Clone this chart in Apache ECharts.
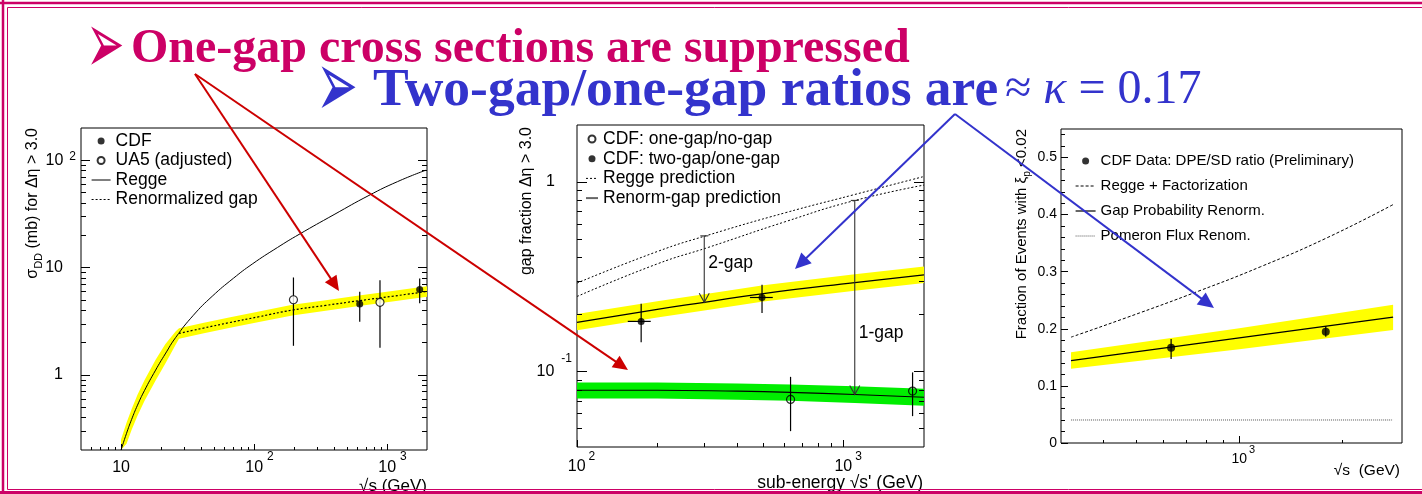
<!DOCTYPE html>
<html>
<head>
<meta charset="utf-8">
<script src="https://cdn.jsdelivr.net/npm/echarts@6.0.0/dist/echarts.min.js"></script>
<style>
html,body{margin:0;padding:0;background:#ffffff;}
#chart{width:1422px;height:494px;}
</style>
</head>
<body>
<div id="chart"></div>
<script>
// ================= DATA =================
// ---- Panel 1: sigma_DD (mb) for dEta > 3.0 vs sqrt(s) ----
const p1ReggeX  = [10, 11, 12, 13.3, 15, 18.2, 21.5, 25.8, 35, 48.5, 70, 97, 150, 218, 400, 732, 1200, 1950];
const p1ReggeY  = [0.2, 0.286, 0.384, 0.523, 0.715, 1.11, 1.57, 2.24, 3.6, 5.41, 7.96, 10.8, 15.4, 20.4, 31.2, 47.1, 63.3, 80.7];
const p1RenormX = [27.3, 42, 64.9, 109, 194, 346, 617, 1097, 2000];
const p1RenormY = [2.44, 2.74, 3.07, 3.49, 4.02, 4.45, 4.92, 5.41, 6.0];
const p1BandX   = [10, 11, 12, 13.3, 15, 18.2, 21.5, 25.8, 27.3, 42, 64.9, 109, 194, 346, 617, 1097, 2000];
const p1BandLo  = [0.2, 0.229, 0.307, 0.418, 0.572, 0.888, 1.27, 1.92, 2.18, 2.45, 2.74, 3.12, 3.59, 3.97, 4.39, 4.83, 5.36];
const p1BandHi  = [0.25, 0.358, 0.48, 0.654, 0.894, 1.39, 1.93, 2.56, 2.73, 3.07, 3.44, 3.91, 4.50, 4.98, 5.51, 6.06, 6.72];
const p1CdfX = [624, 1762], p1CdfY = [4.58, 6.27], p1CdfLo = [3.13, 4.65], p1CdfHi = [5.96, 7.92];
const p1Ua5X = [198, 886],  p1Ua5Y = [5.02, 4.75], p1Ua5Lo = [1.87, 1.79], p1Ua5Hi = [8.1, 7.64];
const p1XTicks = [10, 100, 1000];
const p1XTickLabels = [['10', ''], ['10', '2'], ['10', '3']];
const p1XMinor = [6, 7, 8, 9, 20, 30, 40, 50, 60, 70, 80, 90, 200, 300, 400, 500, 600, 700, 800, 900];
const p1YTicks = [1, 10, 100];
const p1YTickLabels = [['1', ''], ['10', ''], ['10', '2']];
const p1YMinor = [0.3, 0.4, 0.5, 0.6, 0.7, 0.8, 0.9, 2, 3, 4, 5, 6, 7, 8, 9, 20, 30, 40, 50, 60, 70, 80, 90];

// ---- Panel 2: gap fraction vs sub-energy ----
const p2ReggeX      = [100, 200, 312, 600, 1080, 2000];
const p2ReggeUpperY = [0.293, 0.43, 0.526, 0.687, 0.854, 1.07];
const p2ReggeLowerY = [0.249, 0.37, 0.453, 0.616, 0.794, 0.964];
const p2TwoGapX  = [100, 200, 300, 500, 1100, 2000];
const p2TwoGapY  = [0.182, 0.213, 0.232, 0.258, 0.295, 0.324];
const p2TwoGapLo = [0.165, 0.193, 0.210, 0.234, 0.267, 0.293];
const p2TwoGapHi = [0.201, 0.235, 0.256, 0.285, 0.326, 0.358];
const p2OneGapX  = [100, 200, 400, 630, 1100, 2000];
const p2OneGapY  = [0.0797, 0.0797, 0.0788, 0.0777, 0.0757, 0.0732];
const p2OneGapLo = [0.0720, 0.0720, 0.0711, 0.0702, 0.0683, 0.0660];
const p2OneGapHi = [0.0875, 0.0875, 0.0866, 0.0855, 0.0836, 0.0812];
const p2TwoPtsX = [174, 494], p2TwoPtsY = [0.184, 0.246], p2TwoPtsLo = [0.143, 0.204], p2TwoPtsHi = [0.228, 0.287];
const p2TwoPtsXLo = [155, 445], p2TwoPtsXHi = [189, 542];
const p2OnePtsX = [632, 1812], p2OnePtsY = [0.0713, 0.0789], p2OnePtsLo = [0.0485, 0.0582], p2OnePtsHi = [0.0938, 0.099];
const p2ArrowX = [300, 1100], p2ArrowTop = [0.52, 0.80], p2ArrowBottom = [0.232, 0.0757];
const p2ArrowLabels = ['2-gap', '1-gap'], p2ArrowLabelY = [0.375, 0.16];
const p2XTicks = [100, 1000];
const p2XTickLabels = [['10', '2'], ['10', '3']];
const p2XMinor = [200, 300, 400, 500, 600, 700, 800, 900];
const p2YTicks = [0.1, 1];
const p2YTickLabels = [['10', '-1'], ['1', '']];
const p2YMinor = [0.05, 0.06, 0.07, 0.08, 0.09, 0.2, 0.3, 0.4, 0.5, 0.6, 0.7, 0.8, 0.9];

// ---- Panel 3: fraction of events with xi_p < 0.02 ----
const p3ReggeX = [321, 470, 760, 1152, 1803, 2825];
const p3ReggeY = [0.1854, 0.2202, 0.2661, 0.3085, 0.3591, 0.4176];
const p3RenormX  = [321, 1000, 2825];
const p3RenormY  = [0.1444, 0.184, 0.2205];
const p3RenormLo = [0.130, 0.164, 0.198];
const p3RenormHi = [0.159, 0.201, 0.242];
const p3PomX = [321, 2825], p3PomY = [0.0403, 0.0403];
const p3PtsX = [631, 1793], p3PtsY = [0.167, 0.195], p3PtsLo = [0.147, 0.186], p3PtsHi = [0.182, 0.205];
const p3XTicks = [1000];
const p3XTickLabels = [['10', '3']];
const p3XMinor = [400, 500, 600, 700, 800, 900, 2000];
const p3YTicks = [0, 0.1, 0.2, 0.3, 0.4, 0.5];
const p3YTickLabels = ['0', '0.1', '0.2', '0.3', '0.4', '0.5'];
const p3YMinor = [0.02, 0.04, 0.06, 0.08, 0.12, 0.14, 0.16, 0.18, 0.22, 0.24, 0.26, 0.28, 0.32, 0.34, 0.36, 0.38, 0.42, 0.44, 0.46, 0.48, 0.52, 0.54];

// ================= HELPERS =================
const SANS = "'Liberation Sans', Arial, Helvetica, sans-serif";
const SERIF = "'Liberation Serif', 'Times New Roman', serif";
function zip() { const a = Array.from(arguments); return a[0].map((_, i) => a.map(arr => arr[i])); }

function powFmt(ticks, labels, mode) {
  return function (v) {
    const i = ticks.findIndex(t => Math.abs(Math.log10(t) - Math.log10(v)) < 1e-6);
    if (i < 0) return '';
    const b = labels[i][0], s = labels[i][1];
    if (!s) return '{' + (mode === 'x' ? 'b' : 'bp') + '|' + b + '}';
    return '{' + (mode === 'x' ? 'bl' : 'b') + '|' + b + '}{s|' + s + '}';
  };
}

function axis(o) {
  const a = {
    type: o.type || 'log', gridIndex: o.grid, position: o.pos, min: o.min, max: o.max, offset: 0,
    axisLine: { show: false }, splitLine: { show: false }, minorTick: { show: false },
    axisTick: { show: true, inside: true, length: o.len, customValues: o.ticks, lineStyle: { color: '#000', width: 1 } },
    axisLabel: { show: false }, z: 5
  };
  if (a.type === 'log') a.logBase = 10;
  if (o.labels) {
    a.axisLabel = { show: true, customValues: o.labels, formatter: o.fmt, margin: o.margin, rich: o.rich,
      color: '#000', fontFamily: SANS, fontSize: o.fs || 16, hideOverlap: false };
  }
  return a;
}

function bandSeries(xi, yi, xs, lo, hi, color) {
  return { type: 'custom', xAxisIndex: xi, yAxisIndex: yi, clip: true, z: 1, silent: true,
    data: zip(xs, lo, hi), encode: { x: 0, y: [1, 2] },
    renderItem: function (params, api) {
      if (params.dataIndex !== 0) return null;
      const top = xs.map((x, i) => api.coord([x, hi[i]]));
      const bot = xs.map((x, i) => api.coord([x, lo[i]])).reverse();
      return { type: 'polygon', shape: { points: top.concat(bot) }, style: { fill: color } };
    } };
}
function errSeries(xi, yi, data) {
  return { type: 'custom', xAxisIndex: xi, yAxisIndex: yi, z: 3, silent: true, data: data,
    encode: { x: 0, y: [1, 2, 3] },
    renderItem: function (params, api) {
      const d = data[params.dataIndex];
      const a = api.coord([d[0], d[2]]), b = api.coord([d[0], d[3]]);
      const ch = [{ type: 'line', shape: { x1: a[0], y1: a[1], x2: b[0], y2: b[1] }, style: { stroke: '#000', lineWidth: 1.2 } }];
      if (d.length > 4) {
        const c = api.coord([d[4], d[1]]), e = api.coord([d[5], d[1]]);
        ch.push({ type: 'line', shape: { x1: c[0], y1: c[1], x2: e[0], y2: e[1] }, style: { stroke: '#000', lineWidth: 1.2 } });
      }
      return { type: 'group', children: ch };
    } };
}
function lineSeries(name, xi, yi, xs, ys, style) {
  return { type: 'line', name: name, xAxisIndex: xi, yAxisIndex: yi, data: zip(xs, ys), symbol: 'none', showSymbol: false,
    smooth: 0.5, lineStyle: style, itemStyle: { color: style.color }, z: 2, silent: true };
}
function scatterSeries(name, xi, yi, xs, ys, size, open, fill) {
  return { type: 'scatter', name: name, xAxisIndex: xi, yAxisIndex: yi, data: zip(xs, ys), symbol: 'circle',
    symbolSize: size, z: 4, silent: true,
    itemStyle: open ? { color: fill, borderColor: '#000', borderWidth: 1.2 } : { color: '#000' } };
}
function arrowGfx(x1, y1, x2, y2, color, hl, hw) {
  const dx = x2 - x1, dy = y2 - y1, L = Math.hypot(dx, dy), ux = dx / L, uy = dy / L;
  const bx = x2 - ux * hl, by = y2 - uy * hl, px = -uy * hw / 2, py = ux * hw / 2;
  return [
    { type: 'line', shape: { x1: x1, y1: y1, x2: bx + ux * 2, y2: by + uy * 2 }, style: { stroke: color, lineWidth: 2 }, z: 50 },
    { type: 'polygon', shape: { points: [[x2, y2], [bx + px, by + py], [bx - px, by - py]] }, style: { fill: color }, z: 50 }
  ];
}
function lineLegend(name, color, width) {
  return { name: name, itemStyle: { opacity: 0 }, lineStyle: { color: color, width: width } };
}

// ================= AXES =================
const richX1 = { b: { fontSize: 16, lineHeight: 34, fontFamily: SANS }, bl: { fontSize: 16, lineHeight: 34, fontFamily: SANS, padding: [0, 0, 0, 11] }, s: { fontSize: 12, fontFamily: SANS, padding: [0, 0, 22, 4] } };
const richY1 = { b: { fontSize: 16, fontFamily: SANS }, bp: { fontSize: 16, fontFamily: SANS, padding: [0, 13, 0, 0] }, s: { fontSize: 12, fontFamily: SANS, padding: [0, 0, 8, 6] } };
const richX2 = { b: { fontSize: 16, lineHeight: 31, fontFamily: SANS }, bl: { fontSize: 16, lineHeight: 31, fontFamily: SANS, padding: [0, 0, 0, 9] }, s: { fontSize: 12, fontFamily: SANS, padding: [0, 0, 19, 3] } };
const richY2 = { b: { fontSize: 16, fontFamily: SANS }, bp: { fontSize: 16, fontFamily: SANS, padding: [0, 17, 0, 0] }, s: { fontSize: 12, fontFamily: SANS, padding: [0, 0, 26, 7] } };
const richX3 = { b: { fontSize: 14, lineHeight: 29, fontFamily: SANS }, bl: { fontSize: 14, lineHeight: 29, fontFamily: SANS, padding: [0, 0, 0, 8] }, s: { fontSize: 11, fontFamily: SANS, padding: [0, 0, 18, 2] } };

const xAxes = [
  axis({ grid: 0, pos: 'bottom', min: 5, max: 2000, len: 6, ticks: p1XTicks, labels: p1XTicks, fmt: powFmt(p1XTicks, p1XTickLabels, 'x'), rich: richX1, margin: 1 }),
  axis({ grid: 0, pos: 'bottom', min: 5, max: 2000, len: 3, ticks: p1XMinor }),
  axis({ grid: 1, pos: 'bottom', min: 100, max: 2000, len: 7, ticks: p2XTicks, labels: p2XTicks, fmt: powFmt(p2XTicks, p2XTickLabels, 'x'), rich: richX2, margin: 4 }),
  axis({ grid: 1, pos: 'bottom', min: 100, max: 2000, len: 4, ticks: p2XMinor }),
  axis({ grid: 2, pos: 'bottom', min: 300, max: 3000, len: 7, ticks: p3XTicks, labels: p3XTicks, fmt: powFmt(p3XTicks, p3XTickLabels, 'x'), rich: richX3, margin: 1.5, fs: 14 }),
  axis({ grid: 2, pos: 'bottom', min: 300, max: 3000, len: 3, ticks: p3XMinor })
];
const yAxes = [
  axis({ grid: 0, pos: 'left', min: 0.2, max: 200, len: 9, ticks: p1YTicks, labels: p1YTicks, fmt: powFmt(p1YTicks, p1YTickLabels, 'y'), rich: richY1, margin: 5 }),
  axis({ grid: 0, pos: 'left', min: 0.2, max: 200, len: 5, ticks: p1YMinor }),
  axis({ grid: 0, pos: 'right', min: 0.2, max: 200, len: 9, ticks: p1YTicks }),
  axis({ grid: 0, pos: 'right', min: 0.2, max: 200, len: 5, ticks: p1YMinor }),
  axis({ grid: 1, pos: 'left', min: 0.04, max: 2, len: 10, ticks: p2YTicks, labels: p2YTicks, fmt: powFmt(p2YTicks, p2YTickLabels, 'y'), rich: richY2, margin: 5 }),
  axis({ grid: 1, pos: 'left', min: 0.04, max: 2, len: 5, ticks: p2YMinor }),
  axis({ grid: 1, pos: 'right', min: 0.04, max: 2, len: 10, ticks: p2YTicks }),
  axis({ grid: 1, pos: 'right', min: 0.04, max: 2, len: 5, ticks: p2YMinor }),
  axis({ type: 'value', grid: 2, pos: 'left', min: 0, max: 0.55, len: 7, ticks: p3YTicks, labels: p3YTicks,
         fmt: function (v) { const i = p3YTicks.findIndex(t => Math.abs(t - v) < 1e-9); return i < 0 ? '' : p3YTickLabels[i]; }, margin: 4, fs: 14 }),
  axis({ type: 'value', grid: 2, pos: 'left', min: 0, max: 0.55, len: 4, ticks: p3YMinor })
];

// ================= SERIES =================
const DOT2 = [2, 2];
const series = [
  // panel 1
  bandSeries(0, 0, p1BandX, p1BandLo, p1BandHi, '#ffff00'),
  lineSeries('Regge', 0, 0, p1ReggeX, p1ReggeY, { color: '#000', width: 1 }),
  lineSeries('Renormalized gap', 0, 0, p1RenormX, p1RenormY, { color: '#000', width: 1.2, type: DOT2 }),
  errSeries(0, 0, zip(p1CdfX, p1CdfY, p1CdfLo, p1CdfHi)),
  errSeries(0, 0, zip(p1Ua5X, p1Ua5Y, p1Ua5Lo, p1Ua5Hi)),
  scatterSeries('CDF', 0, 0, p1CdfX, p1CdfY, 7, false),
  scatterSeries('UA5 (adjusted)', 0, 0, p1Ua5X, p1Ua5Y, 8, true, '#fff'),
  // panel 2
  bandSeries(2, 4, p2TwoGapX, p2TwoGapLo, p2TwoGapHi, '#ffff00'),
  bandSeries(2, 4, p2OneGapX, p2OneGapLo, p2OneGapHi, '#00ee00'),
  lineSeries('Regge prediction', 2, 4, p2ReggeX, p2ReggeUpperY, { color: '#000', width: 1, type: DOT2 }),
  lineSeries('Regge prediction', 2, 4, p2ReggeX, p2ReggeLowerY, { color: '#000', width: 1, type: DOT2 }),
  lineSeries('Renorm-gap prediction', 2, 4, p2TwoGapX, p2TwoGapY, { color: '#000', width: 1.2 }),
  lineSeries('Renorm-gap prediction', 2, 4, p2OneGapX, p2OneGapY, { color: '#000', width: 1.2 }),
  { type: 'custom', xAxisIndex: 2, yAxisIndex: 4, z: 3, silent: true,
    data: zip(p2ArrowX, p2ArrowTop, p2ArrowBottom, p2ArrowLabelY), encode: { x: 0, y: [1, 2] },
    renderItem: function (params, api) {
      const i = params.dataIndex;
      const pt = api.coord([p2ArrowX[i], p2ArrowTop[i]]), pb = api.coord([p2ArrowX[i], p2ArrowBottom[i]]);
      const pl = api.coord([p2ArrowX[i], p2ArrowLabelY[i]]);
      const st = { stroke: '#333', lineWidth: 1.1, fill: null };
      return { type: 'group', children: [
        { type: 'line', shape: { x1: pt[0], y1: pt[1], x2: pb[0], y2: pb[1] }, style: st },
        { type: 'line', shape: { x1: pt[0] - 4, y1: pt[1], x2: pt[0] + 4, y2: pt[1] }, style: st },
        { type: 'polyline', shape: { points: [[pb[0] - 5, pb[1] - 9], [pb[0], pb[1]], [pb[0] + 5, pb[1] - 9]] }, style: st },
        { type: 'text', x: pl[0] + 4, y: pl[1], style: { text: p2ArrowLabels[i], fill: '#000', fontSize: 17.5, fontFamily: SANS, verticalAlign: 'middle', align: 'left' } }
      ] };
    } },
  errSeries(2, 4, zip(p2TwoPtsX, p2TwoPtsY, p2TwoPtsLo, p2TwoPtsHi, p2TwoPtsXLo, p2TwoPtsXHi)),
  errSeries(2, 4, zip(p2OnePtsX, p2OnePtsY, p2OnePtsLo, p2OnePtsHi)),
  scatterSeries('CDF: one-gap/no-gap', 2, 4, p2OnePtsX, p2OnePtsY, 8, true, 'rgba(255,255,255,0)'),
  scatterSeries('CDF: two-gap/one-gap', 2, 4, p2TwoPtsX, p2TwoPtsY, 7, false),
  // panel 3
  bandSeries(4, 8, p3RenormX, p3RenormLo, p3RenormHi, '#ffff00'),
  lineSeries('Gap Probability Renorm.', 4, 8, p3RenormX, p3RenormY, { color: '#000', width: 1.2 }),
  lineSeries('Regge + Factorization', 4, 8, p3ReggeX, p3ReggeY, { color: '#000', width: 1, type: [3, 2] }),
  lineSeries('Pomeron Flux Renom.', 4, 8, p3PomX, p3PomY, { color: '#555', width: 1, type: [1, 1] }),
  errSeries(4, 8, zip(p3PtsX, p3PtsY, p3PtsLo, p3PtsHi)),
  scatterSeries('CDF Data: DPE/SD ratio (Preliminary)', 4, 8, p3PtsX, p3PtsY, 8, false)
];

// ================= LEGENDS =================
const legendBase = { orient: 'vertical', padding: 0, selectedMode: false, itemHeight: 7 };
const legends = [
  Object.assign({}, legendBase, { left: 91, top: 132, itemWidth: 19, itemGap: 1.5, textStyle: { fontFamily: SANS, color: '#000', fontSize: 17.5 },
    data: ['CDF', 'UA5 (adjusted)', lineLegend('Regge', '#000', 1), lineLegend('Renormalized gap', '#000', 1.2)] }),
  Object.assign({}, legendBase, { left: 585, top: 130, itemWidth: 12, itemGap: 1.7, textStyle: { fontFamily: SANS, color: '#000', fontSize: 17.5 },
    data: ['CDF: one-gap/no-gap', 'CDF: two-gap/one-gap', lineLegend('Regge prediction', '#000', 1), lineLegend('Renorm-gap prediction', '#666', 2)] }),
  Object.assign({}, legendBase, { left: 1075, top: 153.5, itemWidth: 20, itemGap: 10, textStyle: { fontFamily: SANS, color: '#000', fontSize: 15 },
    data: ['CDF Data: DPE/SD ratio (Preliminary)', lineLegend('Regge + Factorization', '#000', 1), lineLegend('Gap Probability Renorm.', '#000', 1.2), lineLegend('Pomeron Flux Renom.', '#555', 1)] })
];

// ================= GRAPHIC (slide texts, axis titles, annotation arrows, frame) =================
const CRIMSON = '#cc0066', BLUE = '#3333cc', RED = '#cc0000';
const graphic = [
  // bullets and headlines
  { type: 'text', x: 86, y: 50, scaleY: 1.9, style: { text: '\u27A2', fill: CRIMSON, fontSize: 46, fontFamily: "'DejaVu Sans'", verticalAlign: 'middle' } },
  { type: 'text', x: 131, y: 50, style: { text: 'One-gap cross sections are suppressed', fill: CRIMSON, fontSize: 48, fontWeight: 'bold', fontFamily: SERIF, verticalAlign: 'middle' } },
  { type: 'text', x: 316, y: 92, scaleY: 1.9, style: { text: '\u27A2', fill: BLUE, fontSize: 50, fontFamily: "'DejaVu Sans'", verticalAlign: 'middle' } },
  { type: 'text', x: 373, y: 91, style: { text: 'Two-gap/one-gap ratios are', fill: BLUE, fontSize: 53.5, fontWeight: 'bold', fontFamily: SERIF, verticalAlign: 'middle' } },
  { type: 'text', x: 1005, y: 90, style: { text: '\u2248 {k|\u03BA} = 0.17', fill: BLUE, fontSize: 48, fontFamily: SERIF, verticalAlign: 'middle',
      rich: { k: { fontSize: 48, fontStyle: 'italic', fontFamily: SERIF, fill: BLUE } } } },
  // axis titles
  { type: 'text', x: 33, y: 128, rotation: Math.PI / 2, style: { text: '{a|\u03C3}{d|DD}{a| (mb) for \u0394\u03B7 > 3.0}', align: 'right', verticalAlign: 'middle',
      rich: { a: { fontSize: 16, fontFamily: SANS, fill: '#000' }, d: { fontSize: 11, fontFamily: SANS, fill: '#000', padding: [12, 0, 0, 0] } } } },
  { type: 'text', x: 427, y: 478, style: { text: '\u221As (GeV)', fill: '#000', fontSize: 17, fontFamily: SANS, align: 'right', verticalAlign: 'top' } },
  { type: 'text', x: 527, y: 127, rotation: Math.PI / 2, style: { text: 'gap fraction \u0394\u03B7 > 3.0', fill: '#000', fontSize: 16, fontFamily: SANS, align: 'right', verticalAlign: 'middle' } },
  { type: 'text', x: 923, y: 474, style: { text: "sub-energy \u221As' (GeV)", fill: '#000', fontSize: 17.5, fontFamily: SANS, align: 'right', verticalAlign: 'top' } },
  { type: 'text', x: 1022, y: 129, rotation: Math.PI / 2, style: { text: '{a|Fraction of Events with \u03BE}{p|p}{a| <0.02}', align: 'right', verticalAlign: 'middle',
      rich: { a: { fontSize: 15, fontFamily: SANS, fill: '#000' }, p: { fontSize: 10, fontFamily: SANS, fill: '#000', padding: [10, 0, 0, 0] } } } },
  { type: 'text', x: 1400, y: 471, style: { text: '\u221As  (GeV)', fill: '#000', fontSize: 15.5, fontFamily: SANS, align: 'right', verticalAlign: 'middle' } }
]
.concat(arrowGfx(195, 74, 339, 291, RED, 15, 14))
.concat(arrowGfx(195, 74, 628, 370, RED, 15, 14))
.concat(arrowGfx(955, 114, 795, 269, BLUE, 16, 15))
.concat(arrowGfx(955, 114, 1214, 308, BLUE, 16, 15))
.concat([
  // slide frame (double line)
  { type: 'line', shape: { x1: 0, y1: 3, x2: 1422, y2: 3 }, style: { stroke: CRIMSON, lineWidth: 2.5 }, z: 60 },
  { type: 'line', shape: { x1: 3, y1: 0, x2: 3, y2: 494 }, style: { stroke: CRIMSON, lineWidth: 2.5 }, z: 60 },
  { type: 'line', shape: { x1: 0, y1: 492.5, x2: 1422, y2: 492.5 }, style: { stroke: CRIMSON, lineWidth: 3 }, z: 60 },
  { type: 'line', shape: { x1: 7.5, y1: 7.5, x2: 1422, y2: 7.5 }, style: { stroke: CRIMSON, lineWidth: 1 }, z: 60 },
  { type: 'line', shape: { x1: 7.5, y1: 7.5, x2: 7.5, y2: 489.5 }, style: { stroke: CRIMSON, lineWidth: 1 }, z: 60 },
  { type: 'line', shape: { x1: 7.5, y1: 489.5, x2: 1422, y2: 489.5 }, style: { stroke: CRIMSON, lineWidth: 1 }, z: 60 }
]);

const option = {
  animation: false,
  backgroundColor: '#ffffff',
  textStyle: { fontFamily: SANS },
  grid: [
    { left: 81, top: 128, width: 346, height: 322 },
    { left: 577, top: 125, width: 347, height: 322 },
    { left: 1061, top: 129, width: 341, height: 314 }
  ].map(g => Object.assign({ show: true, borderColor: '#000', borderWidth: 1, backgroundColor: 'transparent', containLabel: false }, g)),
  xAxis: xAxes,
  yAxis: yAxes,
  legend: legends,
  series: series,
  graphic: graphic
};

const chart = echarts.init(document.getElementById('chart'));
chart.setOption(option);
</script>
</body>
</html>
